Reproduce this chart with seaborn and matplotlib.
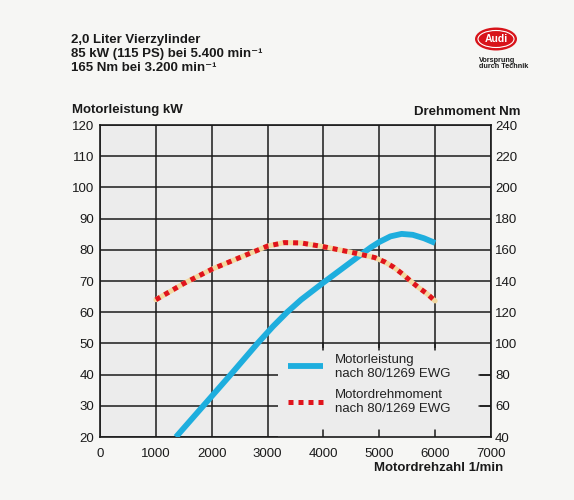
import numpy as np
import pandas as pd
import matplotlib
matplotlib.use("Agg")
import matplotlib.pyplot as plt
import seaborn as sns
from matplotlib.patches import Rectangle, Ellipse
from matplotlib.lines import Line2D

# --- data ---
power_rpm = [1360, 1850, 2340, 2820, 3100, 3350, 3600, 4000, 4300, 4600,
             4850, 5000, 5200, 5400, 5600, 5800, 6000]
power_kw = [20, 30, 40, 50, 55.5, 60, 64, 69.5, 73.5, 77.5,
            80.8, 82.5, 84.3, 85.1, 84.8, 83.7, 82.2]

torque_rpm = [1000, 1500, 2000, 2500, 3000, 3300, 3600, 4000, 4500, 4920,
              5100, 5260, 5415, 5565, 5715, 5860, 6000]
torque_nm = [128, 138.4, 147.5, 155, 162.4, 164.6, 164.4, 162, 158.4, 155,
             152.2, 148.8, 144.5, 139.8, 135.5, 131.7, 127.2]

rpm_ticks = list(range(0, 8000, 1000))
kw_ticks = list(range(20, 130, 10))
nm_ticks = list(range(40, 260, 20))

power = pd.DataFrame({"rpm": power_rpm, "kW": power_kw})
torque = pd.DataFrame({"rpm": torque_rpm, "Nm": torque_nm})

sns.set_theme(style="white")
plt.rcParams["font.family"] = ["Liberation Sans", "DejaVu Sans"]

page_bg = "#f6f6f4"
plot_bg = "#ececec"
ink = "#1a1a1a"
blue = "#1eaede"
red = "#e0141c"

fig = plt.figure(figsize=(5.74, 5.0), dpi=100)
fig.patch.set_facecolor(page_bg)
ax = fig.add_axes([100 / 574, 63 / 500, 391 / 574, 312 / 500])
ax.set_facecolor(plot_bg)

ax.set_xlim(0, 7000)
ax.set_ylim(20, 120)
ax.set_xticks(rpm_ticks)
ax.set_yticks(kw_ticks)
ax.grid(True, color=ink, lw=1.1)
ax.set_axisbelow(True)
for s in ax.spines.values():
    s.set_color(ink)
    s.set_linewidth(1.2)
ax.tick_params(length=0, labelsize=9.5, colors=ink)
ax.tick_params(axis="y", pad=4)
ax.tick_params(axis="x", pad=8)

# legend box blanks out the grid in the lower right
ax.add_patch(Rectangle((3180, 20), 3620, 28.6, facecolor=plot_bg, edgecolor="none", zorder=1))
for x in [4000, 5000, 6000]:
    ax.plot([x, x], [20, 22.2], color=ink, lw=1.1, zorder=1.5)
    ax.plot([x, x], [47.8, 50], color=ink, lw=1.1, zorder=1.5)
for y in [30, 40]:
    ax.plot([6780, 7000], [y, y], color=ink, lw=1.1, zorder=1.5)

sns.lineplot(data=power, x="rpm", y="kW", ax=ax, color=blue, lw=4.2, zorder=3,
             solid_capstyle="butt", solid_joinstyle="round")
ax.set_xlabel("")
ax.set_ylabel("")

ax2 = ax.twinx()
ax2.set_ylim(40, 240)
ax2.set_yticks(nm_ticks)
ax2.tick_params(length=0, labelsize=9.5, colors=ink, pad=3)
for s in ax2.spines.values():
    s.set_visible(False)
sns.lineplot(data=torque, x="rpm", y="Nm", ax=ax2, color="#f3d9a0", lw=3.6, zorder=2,
             solid_joinstyle="round")
sns.lineplot(data=torque, x="rpm", y="Nm", ax=ax2, color=red, lw=3.6, zorder=3,
             linestyle=(0, (1, 1)), dash_capstyle="butt")
ax2.set_xlabel("")
ax2.set_ylabel("")
ax2.set_xlim(0, 7000)

handles = [
    Line2D([], [], color=blue, lw=4.2, solid_capstyle="butt"),
    Line2D([], [], color=red, lw=3.6, linestyle=(0, (1, 1)), dash_capstyle="butt"),
]
labels = ["Motorleistung\nnach 80/1269 EWG", "Motordrehmoment\nnach 80/1269 EWG"]
ax2.legend(handles, labels, loc="upper left", bbox_to_anchor=(0.45, 0.305),
           frameon=False, fontsize=9.5, handlelength=2.7, handletextpad=0.9,
           labelspacing=0.75, labelcolor="#222222")

# axis titles
bold = dict(fontweight="bold", fontsize=9.5, color=ink)
fig.text(72 / 574, 1 - 110 / 500, "Motorleistung kW", ha="left", va="center", **bold)
fig.text(520 / 574, 1 - 112 / 500, "Drehmoment Nm", ha="right", va="center", **bold)
fig.text(503 / 574, 1 - 468 / 500, "Motordrehzahl 1/min", ha="right", va="center", **bold)

# header block
head = ["2,0 Liter Vierzylinder",
        "85 kW (115 PS) bei 5.400 min\u207b\u00b9",
        "165 Nm bei 3.200 min\u207b\u00b9"]
for i, t in enumerate(head):
    fig.text(71 / 574, 1 - (40 + 14 * i) / 500, t, ha="left", va="center", **bold)

# Audi badge
cx, cy = 496 / 574, 1 - 39 / 500
fig.patches.append(Ellipse((cx, cy), 42 / 574, 23 / 500, transform=fig.transFigure,
                           facecolor="#d8141a", edgecolor="none"))
fig.patches.append(Ellipse((cx, cy), 36 / 574, 17 / 500, transform=fig.transFigure,
                           facecolor="none", edgecolor="white", lw=0.8))
fig.text(cx, cy, "Audi", ha="center", va="center", color="white",
         fontweight="bold", fontsize=7.5)
fig.text(479 / 574, 1 - 60 / 500, "Vorsprung", ha="left", va="center",
         fontsize=5.2, fontweight="bold", color=ink)
fig.text(479 / 574, 1 - 67 / 500, "durch Technik", ha="left", va="center",
         fontsize=5.2, fontweight="bold", color=ink)

fig.savefig("out.png", dpi=100, facecolor=page_bg)
